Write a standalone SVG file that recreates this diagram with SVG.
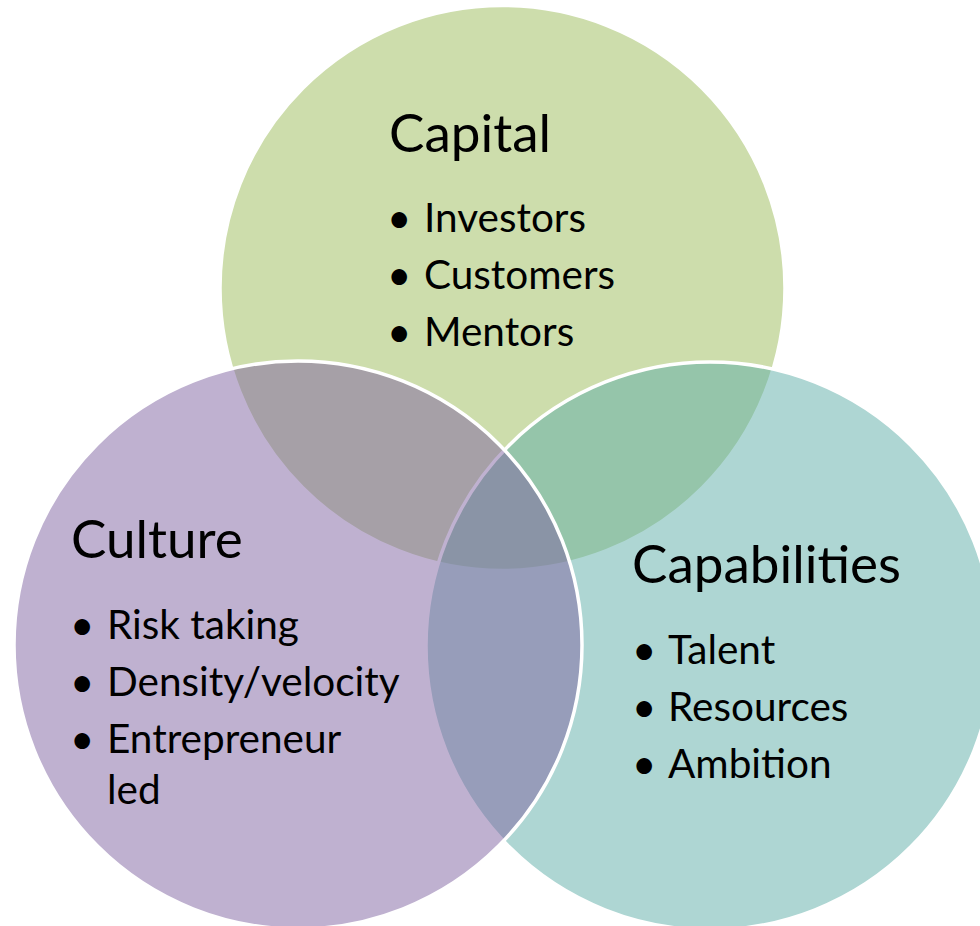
<svg xmlns="http://www.w3.org/2000/svg" width="980" height="926" viewBox="0 0 980 926">
<style>
.c{stroke:#fff;stroke-width:3.5}
.t{font-family:Lato,"Open Sans","Liberation Sans",sans-serif;fill:#000}
.h{font-size:53px}
.b{font-size:40.5px}
.d{font-size:42px}
</style>
<rect width="980" height="926" fill="#fff"/>
<g id="capital">
<circle class="c" cx="502.5" cy="288" r="282.5" fill="#9BBB59" fill-opacity="0.5"/>
</g>
<g id="capabilities">
<circle class="c" cx="710" cy="646" r="284" fill="#5DADA7" fill-opacity="0.5"/>
</g>
<g id="culture">
<circle class="c" cx="298" cy="645" r="284" fill="#8064A2" fill-opacity="0.5"/>
</g>
<g id="labels" class="t">
<text class="h" x="389" y="152">Capital</text>
<text class="d" x="387" y="233">•</text>
<text class="b" x="424" y="232">Investors</text>
<text class="d" x="387" y="290">•</text>
<text class="b" x="424" y="289">Customers</text>
<text class="d" x="387" y="347">•</text>
<text class="b" x="424" y="346">Mentors</text>
<text class="h" x="71" y="558">Culture</text>
<text class="d" x="70" y="640">•</text>
<text class="b" x="107" y="639">Risk taking</text>
<text class="d" x="70" y="697">•</text>
<text class="b" x="107" y="696">Density/velocity</text>
<text class="d" x="70" y="754">•</text>
<text class="b" x="107" y="753">Entrepreneur</text>
<text class="b" x="107" y="804">led</text>
<text class="h" x="632" y="583">Capabilities</text>
<text class="d" x="632" y="665">•</text>
<text class="b" x="668" y="664">Talent</text>
<text class="d" x="632" y="722">•</text>
<text class="b" x="668" y="721">Resources</text>
<text class="d" x="632" y="779">•</text>
<text class="b" x="668" y="778">Ambition</text>
</g>
</svg>
